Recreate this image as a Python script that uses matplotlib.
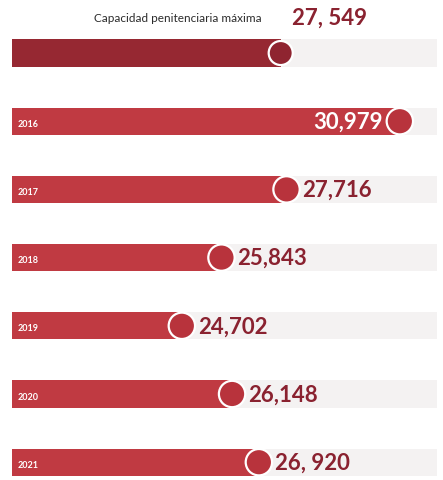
import matplotlib.pyplot as plt

# data
years = ["", "2016", "2017", "2018", "2019", "2020", "2021"]
values = [27549, 30979, 27716, 25843, 24702, 26148, 26920]
value_labels = ["27, 549", "30,979", "27,716", "25,843", "24,702", "26,148", "26, 920"]
title = "Capacidad penitenciaria máxima"

XMIN, XMAX = 19811, 32049
DARK = "#962832"
RED = "#c03a42"
TRACK = "#f4f2f2"


def main():
    fig = plt.figure(figsize=(4.43, 4.81), dpi=100)
    ax = fig.add_axes([12 / 443, 0, 425 / 443, 1])
    ax.set_xlim(XMIN, XMAX)
    ax.set_ylim(6.261, -0.792)
    ax.axis("off")

    rows = list(range(len(values)))
    h = 0.40
    ax.barh(rows, [XMAX - XMIN] * len(rows), left=XMIN, height=h, color=TRACK)
    colors = [DARK] + [RED] * (len(values) - 1)
    ax.barh(rows, [v - XMIN for v in values], left=XMIN, height=h, color=colors)
    ax.scatter(values, rows, s=[300] + [360] * (len(values) - 1),
               c=["#8f2430"] + ["#b8333c"] * (len(values) - 1),
               edgecolors="white", linewidths=1.6, zorder=3)

    dx = (XMAX - XMIN) / 425  # data units per pixel
    for i, (yr, v, lab) in enumerate(zip(years, values, value_labels)):
        if yr:
            ax.text(XMIN + 6 * dx, i + 0.03, yr, color="white", fontsize=6.5,
                    fontweight="bold", family="Lato", va="center", ha="left")
        if i == 0:
            continue
        if v == max(values):
            ax.text(v - 17 * dx, i, lab, color="white", fontsize=16,
                    fontweight="bold", family="Lato", va="center", ha="right")
        else:
            ax.text(v + 16 * dx, i, lab, color="#8a2230", fontsize=16,
                    fontweight="bold", family="Lato", va="center", ha="left")

    # header
    fig.text(178 / 443, 1 - 18 / 481, title, color="#2b2b2b", fontsize=8.5,
             family="Lato", ha="center", va="center")
    fig.text(292 / 443, 1 - 18 / 481, value_labels[0], color="#8a2230",
             fontsize=16, fontweight="bold", family="Lato", ha="left", va="center")

    fig.savefig("out.png", dpi=100, facecolor="white")


if __name__ == "__main__":
    main()
